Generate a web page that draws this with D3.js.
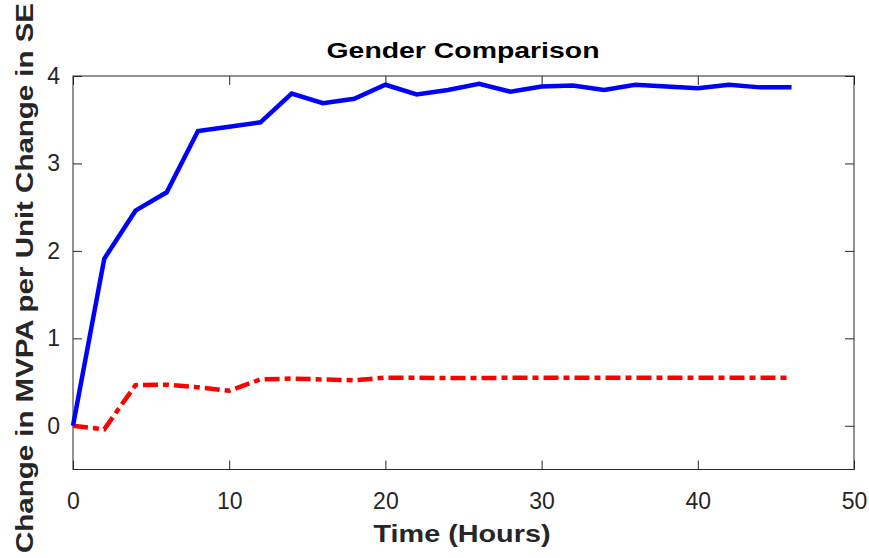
<!DOCTYPE html>
<html>
<head>
<meta charset="utf-8">
<script src="https://cdn.jsdelivr.net/npm/d3@7"></script>
<style>
  body { margin: 0; background: #fff; }
  svg { display: block; font-family: "Liberation Sans", Arial, Helvetica, sans-serif; }
</style>
</head>
<body>
<svg id="chart" width="869" height="558"></svg>
<script>
// hours sampled every 2h
const hours = [0, 2, 4, 6, 8, 10, 12, 14, 16, 18, 20, 22, 24, 26, 28, 30, 32, 34, 36, 38, 40, 42, 44, 46];
const blueSeries = [0, 1.91, 2.46, 2.67, 3.37, 3.42, 3.47, 3.80, 3.69, 3.74, 3.90, 3.79, 3.84, 3.91, 3.82, 3.88, 3.89, 3.84, 3.90, 3.88, 3.86, 3.90, 3.87, 3.87];
const redSeries = [0, -0.04, 0.465, 0.47, 0.44, 0.40, 0.53, 0.54, 0.53, 0.52, 0.55, 0.55, 0.545, 0.545, 0.55, 0.55, 0.55, 0.55, 0.55, 0.55, 0.55, 0.55, 0.55, 0.55];
const xTicks = [0, 10, 20, 30, 40, 50];
const yTicks = [0, 1, 2, 3, 4];

const svg = d3.select("#chart");
const m = { left: 73, right: 854, top: 76, bottom: 469.5 };
const axisColor = "#262626";

const x = d3.scaleLinear().domain([0, 50]).range([m.left, m.right]);
const y = d3.scaleLinear().domain([-0.5, 4]).range([m.bottom, m.top]);

// ticks pointing inward, on all four sides (box on)
const tickLen = 9;
const g = svg.append("g");

g.append("g")
    .attr("transform", `translate(0,${m.bottom})`)
    .call(d3.axisBottom(x).tickValues(xTicks).tickSizeInner(-tickLen).tickSizeOuter(0).tickFormat(d3.format("d")))
    .call(a => a.select(".domain").remove())
    .call(a => a.selectAll("text")
        .attr("font-size", 23).attr("font-family", "Liberation Sans, Arial, sans-serif")
        .attr("fill", axisColor).attr("y", 39.5).attr("dy", 0));

g.append("g")
    .attr("transform", `translate(0,${m.top})`)
    .call(d3.axisTop(x).tickValues(xTicks).tickSizeInner(-tickLen).tickSizeOuter(0).tickFormat(""))
    .call(a => a.select(".domain").remove());

g.append("g")
    .attr("transform", `translate(${m.left},0)`)
    .call(d3.axisLeft(y).tickValues(yTicks).tickSizeInner(-tickLen).tickSizeOuter(0).tickPadding(13).tickFormat(d3.format("d")))
    .call(a => a.select(".domain").remove())
    .call(a => a.selectAll("text")
        .attr("font-size", 23).attr("font-family", "Liberation Sans, Arial, sans-serif")
        .attr("fill", axisColor));

g.append("g")
    .attr("transform", `translate(${m.right},0)`)
    .call(d3.axisRight(y).tickValues(yTicks).tickSizeInner(-tickLen).tickSizeOuter(0).tickFormat(""))
    .call(a => a.select(".domain").remove());

g.selectAll(".tick line").attr("stroke", axisColor);

g.append("rect")
    .attr("x", m.left).attr("y", m.top)
    .attr("width", m.right - m.left).attr("height", m.bottom - m.top)
    .attr("fill", "none")
    .attr("stroke", axisColor)
    .attr("stroke-width", 1);

const line = d3.line().x((d, i) => x(hours[i])).y(d => y(d));

svg.append("path")
    .datum(redSeries)
    .attr("d", line)
    .attr("fill", "none")
    .attr("stroke", "#ff0000")
    .attr("stroke-width", 4.5)
    .attr("stroke-dasharray", "15,5,6,5")
    .attr("stroke-linejoin", "miter");

svg.append("path")
    .datum(blueSeries)
    .attr("d", line)
    .attr("fill", "none")
    .attr("stroke", "#0000ff")
    .attr("stroke-width", 4.5)
    .attr("stroke-linejoin", "miter");

svg.append("text")
    .attr("x", 463)
    .attr("y", 58)
    .attr("text-anchor", "middle")
    .attr("font-size", 22)
    .attr("font-weight", "bold")
    .attr("fill", "#000")
    .attr("textLength", 273)
    .attr("lengthAdjust", "spacingAndGlyphs")
    .text("Gender Comparison");

svg.append("text")
    .attr("x", 462)
    .attr("y", 542)
    .attr("text-anchor", "middle")
    .attr("font-size", 24)
    .attr("font-weight", "bold")
    .attr("fill", axisColor)
    .attr("textLength", 177)
    .attr("lengthAdjust", "spacingAndGlyphs")
    .text("Time (Hours)");

svg.append("text")
    .attr("transform", "translate(33,278) rotate(-90)")
    .attr("text-anchor", "middle")
    .attr("font-size", 24)
    .attr("font-weight", "bold")
    .attr("fill", axisColor)
    .attr("textLength", 550)
    .attr("lengthAdjust", "spacingAndGlyphs")
    .text("Change in MVPA per Unit Change in SE");
</script>
</body>
</html>
